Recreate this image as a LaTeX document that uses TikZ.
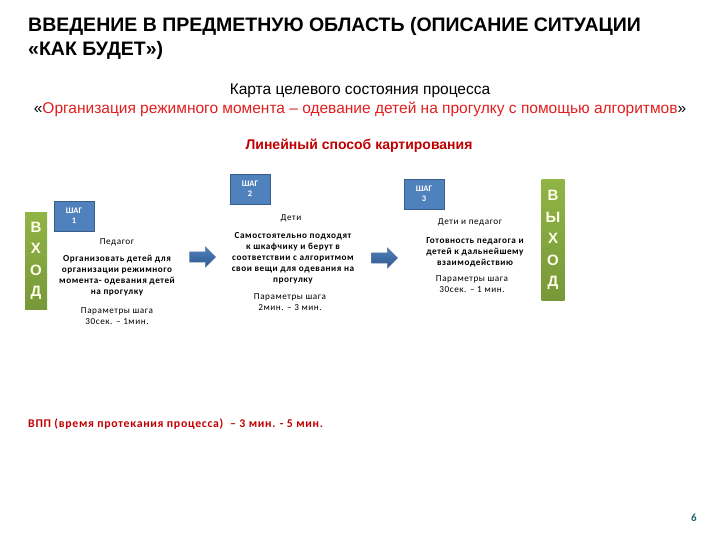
\documentclass[tikz,border=0pt]{standalone}
\usepackage{fontspec}
\setmainfont{Carlito}
\newfontfamily\boxfont[LetterSpace=6]{Carlito}
\newfontfamily\headfont{Liberation Sans}
\usetikzlibrary{shapes.arrows}
\definecolor{stepblue}{RGB}{79,129,189}
\definecolor{stepedge}{RGB}{56,93,138}
\definecolor{arrowblue}{RGB}{60,110,180}
\definecolor{barlight}{RGB}{145,180,70}
\definecolor{bardark}{RGB}{118,152,56}
\definecolor{mapred}{RGB}{225,30,30}
\definecolor{darkred}{RGB}{192,0,0}
\definecolor{pageteal}{RGB}{31,100,110}
\tikzset{
	stepbox/.style={draw=stepedge, fill=stepblue, text=white, inner sep=0,
		minimum width=40, minimum height=30, align=center,
		font=\fontsize{8.5}{10}\selectfont\bfseries},
	bar/.style={draw=none, top color=barlight, bottom color=bardark, text=white!92!yellow,
		inner sep=0, minimum width=23, align=center,
		font=\headfont\fontsize{15}{21.5}\selectfont\bfseries},
	who/.style={align=center, inner sep=0, font=\boxfont\fontsize{9.2}{10.5}\selectfont},
	act/.style={align=center, inner sep=0, font=\boxfont\fontsize{9.2}{11}\selectfont\bfseries},
	par/.style={align=center, inner sep=0, font=\boxfont\fontsize{9.2}{10.5}\selectfont},
	blockarrow/.style={single arrow, draw=stepedge!80, top color=stepblue, bottom color=arrowblue!80!black,
		minimum height=26, minimum width=20, single arrow head extend=5, inner sep=5}
}
\begin{document}
\begin{tikzpicture}[x=1pt, y=-1pt]
			%%%%% START %%%%%
			\useasboundingbox (0,0) rectangle (720,540);
			
			\node[anchor=base west, inner sep=0, font=\headfont\bfseries\fontsize{19.5}{23}\selectfont] (title1) at (28, 32) {ВВЕДЕНИЕ В ПРЕДМЕТНУЮ ОБЛАСТЬ (ОПИСАНИЕ СИТУАЦИИ};
			\node[anchor=base west, inner sep=0, font=\headfont\bfseries\fontsize{19.5}{23}\selectfont] (title2) at (28, 56) {«КАК БУДЕТ»)};
			
			\node[anchor=base, inner sep=0, font=\headfont\fontsize{15.5}{18}\selectfont] (map) at (360, 95) {Карта целевого состояния процесса};
			\node[anchor=base, inner sep=0, font=\headfont\fontsize{15.5}{18}\selectfont] (process) at (360, 114) {«\textcolor{mapred}{Организация режимного момента – одевание детей на прогулку с помощью алгоритмов}»};
			\node[anchor=base, inner sep=0, text=darkred, font=\headfont\bfseries\fontsize{14}{17}\selectfont] (method) at (359, 150) {Линейный способ картирования};
			
			% вход / выход
			\node[bar, minimum height=96, minimum width=22] (in) at (36, 261) {В\\Х\\О\\Д};
			\node[bar, minimum height=121] (out) at (553, 240) {В\\Ы\\Х\\О\\Д};
			
			% шаг 1
			\node[stepbox] (s1) at (74, 216) {ШАГ\\1};
			\node[who] (s1who) at (117, 242) {Педагог};
			\node[act] (s1act) at (117, 276) {Организовать детей для\\организации режимного\\момента- одевания детей\\на прогулку};
			\node[par] (s1par) at (117, 316) {Параметры шага\\30сек. – 1мин.};
			
			\node[blockarrow] (arr1) at (200, 257) {};
			
			% шаг 2
			\node[stepbox] (s2) at (250, 189) {ШАГ\\2};
			\node[who] (s2who) at (291, 218) {Дети};
			\node[act] (s2act) at (293, 258) {Самостоятельно подходят\\к шкафчику и берут в\\соответствии с алгоритмом\\свои вещи для одевания на\\прогулку};
			\node[par] (s2par) at (290, 302) {Параметры шага\\2мин. – 3 мин.};
			
			\node[blockarrow] (arr2) at (382, 258) {};
			
			% шаг 3
			\node[stepbox] (s3) at (424, 194) {ШАГ\\3};
			\node[who] (s3who) at (470, 222) {Дети и педагог};
			\node[act] (s3act) at (475, 252) {Готовность педагога и\\детей к дальнейшему\\взаимодействию};
			\node[par] (s3par) at (472, 284) {Параметры шага\\30сек. – 1 мин.};
			
			\node[anchor=west, inner sep=0, text=darkred, font=\boxfont\fontsize{11.8}{14}\selectfont\bfseries] (vpp) at (28, 424) {ВПП (время протекания процесса)\ \ – 3 мин. - 5 мин.};
			
			\node[text=pageteal, inner sep=0, font=\fontsize{11}{13}\selectfont\bfseries] (page) at (694, 518) {6};
			%%%%% END %%%%%
\end{tikzpicture}
\end{document}
